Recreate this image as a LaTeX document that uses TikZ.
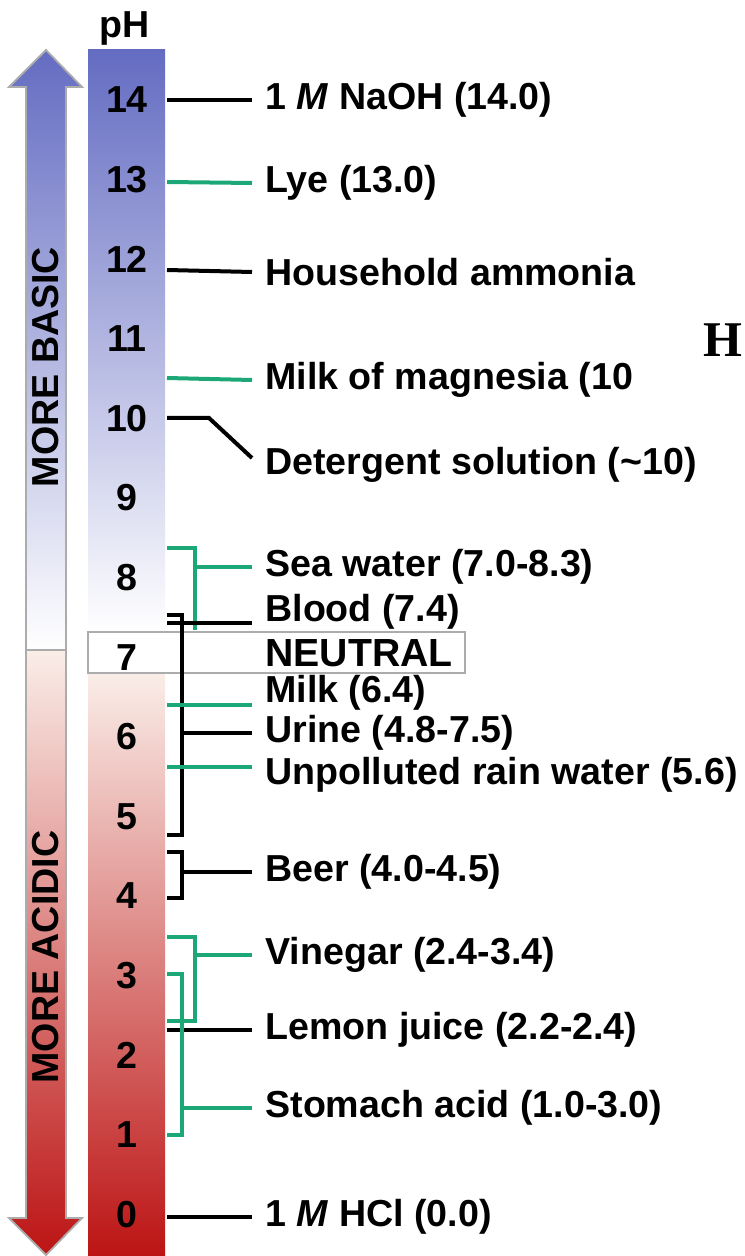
\documentclass[tikz,border=0pt]{standalone}
\usepackage{fontspec}
\setmainfont{Liberation Sans}
\newfontfamily\serifmark{Liberation Serif}
\usetikzlibrary{calc}
\definecolor{basicblue}{RGB}{100,108,194}
\definecolor{acidpale}{RGB}{250,237,232}
\definecolor{aciddark}{RGB}{188,20,20}
\definecolor{leadgreen}{RGB}{28,168,118}
\newcommand{\lblfont}{\fontsize{18.8}{22}\selectfont\bfseries}

\begin{document}
\begin{tikzpicture}[x=0.5pt, y=-0.5pt,
  phnum/.style={font=\lblfont, inner sep=0pt},
  lbl/.style={anchor=west, inner xsep=6.5pt, inner ysep=0pt, font=\lblfont},
  blk/.style={line width=2pt, black},
  grn/.style={line width=2pt, leadgreen},
  edge/.style={draw=gray!65, line width=0.9pt}
]
\useasboundingbox (0,0) rectangle (744,1256);

% side arrow
\shade[top color=basicblue, bottom color=white, edge]
  (46,50) -- (82,87) -- (66,87) -- (66,650) -- (26,650) -- (26,87) -- (9,87) -- cycle;
\shade[top color=acidpale, bottom color=aciddark, edge]
  (26,650) -- (66,650) -- (66,1218) -- (82,1218) -- (46,1255) -- (9,1218) -- (26,1218) -- cycle;
\node[phnum, rotate=90] (basic) at (46,367) {MORE BASIC};
\node[phnum, rotate=90] (acidic) at (46,957) {MORE ACIDIC};

% pH column
\shade[top color=basicblue, bottom color=white] (88,50) rectangle (165,632);
\shade[top color=acidpale, bottom color=aciddark] (88,673) rectangle (165,1256);
\draw[edge, fill=white] (88,632) rectangle (465,673);
\node[phnum] (phhead) at (125,28) {pH};
\foreach \n in {0,...,14}
  \node[phnum] (n\n) at (127,{100+(14-\n)*79.6}) {\n};

% labels
\node[lbl] (naoh) at (252,100) {1 \textit{M} NaOH (14.0)};
\node[lbl] (lye) at (252,183) {Lye (13.0)};
\node[lbl] (ammonia) at (252,272) {Household ammonia};
\node[lbl] (magnesia) at (252,380) {Milk of magnesia (10};
\node[lbl] (detergent) at (252,465) {Detergent solution (\textasciitilde10)};
\node[lbl] (seawater) at (252,567) {Sea water (7.0-8.3)};
\node[lbl] (blood) at (252,612) {Blood (7.4)};
\node[lbl, font=\fontsize{19.6}{22}\selectfont\bfseries] (neutral) at (252,653) {NEUTRAL};
\node[lbl] (milk) at (252,693) {Milk (6.4)};
\node[lbl] (urine) at (252,733) {Urine (4.8-7.5)};
\node[lbl] (rain) at (252,775) {Unpolluted rain water (5.6)};
\node[lbl] (beer) at (252,872) {Beer (4.0-4.5)};
\node[lbl] (vinegar) at (252,955) {Vinegar (2.4-3.4)};
\node[lbl] (lemon) at (252,1030) {Lemon juice (2.2-2.4)};
\node[lbl] (stomach) at (252,1108) {Stomach acid (1.0-3.0)};
\node[lbl] (hcl) at (252,1217) {1 \textit{M} HCl (0.0)};
\node[anchor=east, inner sep=0pt, font=\serifmark\fontsize{25}{25}\selectfont\bfseries] (strayh) at (743,340) {H};

% leader starts at the column edge
\foreach \nm/\yy in {naoh/100, lye/182, ammonia/270, magnesia/378, detergent/418,
                     blood/623, milk/705, rain/767, lemon/1030, hcl/1217}
  \coordinate (s-\nm) at (167,\yy);
\foreach \nm/\yy in {sea/548, urine/615, beer/852, vinegar/937, stomach/974}
  \coordinate (b-\nm) at (167,\yy);
\coordinate (sp-sea) at (195,548);
\coordinate (sp-urine) at (182,615);
\coordinate (sp-beer) at (182,852);
\coordinate (sp-vinegar) at (195,937);
\coordinate (sp-stomach) at (182,974);

% leaders
\draw[blk] (s-naoh) -- (naoh.west);
\draw[grn] (s-lye) -- (lye.west);
\draw[blk] (s-ammonia) -- (ammonia.west);
\draw[grn] (s-magnesia) -- (magnesia.west);
\draw[blk] (s-detergent) -- ++(42,0) -- ($(detergent.west)+(0,-7)$);
\draw[grn] (b-sea) -- (sp-sea) -- ++(0,82);
\draw[grn] (sp-sea |- seawater.west) -- (seawater.west);
\draw[blk] (s-blood) -- ($(blood.west)+(0,11)$);
\draw[blk] (b-urine) -- (sp-urine) -- ++(0,220) -- ++(-15,0);
\draw[blk] (sp-urine |- urine.west) -- (urine.west);
\draw[grn] (s-milk) -- ($(milk.west)+(0,12)$);
\draw[grn] (s-rain) -- ($(rain.west)+(0,-8)$);
\draw[blk] (b-beer) -- (sp-beer) -- ++(0,46) -- ++(-15,0);
\draw[blk] (sp-beer |- beer.west) -- (beer.west);
\draw[grn] (b-vinegar) -- (sp-vinegar) -- ++(0,84) -- ++(-28,0);
\draw[grn] (sp-vinegar |- vinegar.west) -- (vinegar.west);
\draw[blk] (s-lemon) -- (lemon.west);
\draw[grn] (b-stomach) -- (sp-stomach) -- ++(0,161) -- ++(-15,0);
\draw[grn] (sp-stomach |- stomach.west) -- (stomach.west);
\draw[blk] (s-hcl) -- (hcl.west);
\end{tikzpicture}
\end{document}
